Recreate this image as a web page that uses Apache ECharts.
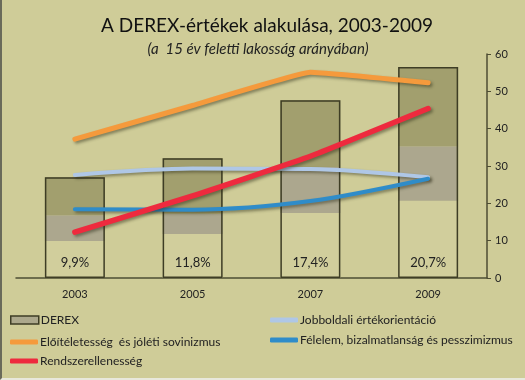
<!DOCTYPE html>
<html>
<head>
<meta charset="utf-8">
<script src="https://cdn.jsdelivr.net/npm/echarts@6/dist/echarts.min.js"></script>
<style>
html,body{margin:0;padding:0;background:#CFCC98;}
#c{width:525px;height:380px;box-sizing:border-box;border-left:2px solid #6a6a5a;border-bottom:2px solid #e8e8dc;}
</style>
</head>
<body>
<div id="c"></div>
<script>
var years = ['2003', '2005', '2007', '2009'];
var derexPct = [9.9, 11.8, 17.4, 20.7];
var grayTop = [16.8, 17.2, 29.7, 35.3];
var barTop = [27.0, 32.1, 47.6, 56.5];
var eloitelet = [37.2, 46.2, 55.1, 52.3];
var rendszer = [12.3, 22.0, 32.6, 45.4];
var jobboldali = [27.6, 29.3, 29.2, 27.0];
var felelem = [18.4, 18.3, 20.6, 26.6];
var yTicks = [0, 60, 10];

var FONT = 'Lato';
var shadow = {shadowColor: 'rgba(40,40,20,0.45)', shadowBlur: 3, shadowOffsetX: 2, shadowOffsetY: 2};
function lineSeries(name, data, color, width, smooth) {
  return {
    name: name, type: 'line', data: data, smooth: smooth, showSymbol: false, symbol: 'none',
    z: 5,
    lineStyle: Object.assign({color: color, width: width, cap: 'round', join: 'round'}, shadow),
    itemStyle: {color: color}
  };
}
var chart = echarts.init(document.getElementById('c'));
chart.setOption({
  backgroundColor: '#CFCC98',
  animation: false,
  title: [
    {text: 'A DEREX-értékek alakulása, 2003-2009', left: 260, top: 11, textAlign: 'center',
     textStyle: {fontFamily: FONT, fontSize: 19, fontWeight: 'normal', color: '#111'}},
    {text: '(a  15 év feletti lakosság arányában)', left: 251, top: 37, textAlign: 'center',
     textStyle: {fontFamily: FONT, fontSize: 15, fontStyle: 'italic', fontWeight: 'normal', color: '#222'}}
  ],
  grid: {left: 14, right: 38, top: 54, bottom: 100},
  xAxis: {
    type: 'category', data: years,
    axisLine: {lineStyle: {color: '#4e4d33', width: 1.5}},
    axisTick: {show: false},
    axisLabel: {fontFamily: FONT, fontSize: 11, color: '#222', margin: 11}
  },
  yAxis: {
    type: 'value', position: 'right', min: yTicks[0], max: yTicks[1], interval: yTicks[2],
    splitLine: {show: false},
    axisLine: {show: true, lineStyle: {color: '#4e4d33', width: 1.5}},
    axisTick: {show: true, length: 4, lineStyle: {color: '#4e4d33'}},
    axisLabel: {fontFamily: FONT, fontSize: 11, color: '#222', margin: 8}
  },
  legend: [
    {orient: 'vertical', left: 8, top: 314, padding: 0, itemWidth: 28, itemHeight: 8, itemGap: 6,
     icon: 'rect',
     textStyle: {fontFamily: FONT, fontSize: 12, color: '#222', padding: [0,0,0,-3]},
     data: [{name: 'DEREX', itemStyle: {color: '#ACA88C', borderColor: '#3e3d25', borderWidth: 1.5}}]},
    {orient: 'vertical', left: 8, top: 336, padding: 0, itemWidth: 28, itemHeight: 5, itemGap: 7,
     icon: 'roundRect',
     textStyle: {fontFamily: FONT, fontSize: 12, color: '#222', padding: [0,0,0,-3]},
     data: ['Előítéletesség  és jóléti sovinizmus', 'Rendszerellenesség']},
    {orient: 'vertical', left: 268, top: 314, padding: 0, itemWidth: 28, itemHeight: 5, itemGap: 8,
     icon: 'roundRect',
     textStyle: {fontFamily: FONT, fontSize: 12, color: '#222', padding: [0,0,0,-3]},
     data: ['Jobboldali értékorientáció', 'Félelem, bizalmatlanság és pesszimizmus']}
  ],
  series: [
    {name: 'base', type: 'bar', stack: 'd', barWidth: 60, z: 2,
     data: derexPct, itemStyle: {color: '#D1CE9C'}, silent: true},
    {name: 'gray', type: 'bar', stack: 'd', barWidth: 60, z: 2,
     data: grayTop.map(function(v, i){ return +(v - derexPct[i]).toFixed(2); }),
     itemStyle: {color: '#ACA78E'}, silent: true},
    {name: 'olive', type: 'bar', stack: 'd', barWidth: 60, z: 2,
     data: barTop.map(function(v, i){ return +(v - grayTop[i]).toFixed(2); }),
     itemStyle: {color: '#A29F6E'}, silent: true},
    {name: 'DEREX', type: 'bar', barWidth: 60, barGap: '-100%', z: 3,
     data: barTop,
     itemStyle: {color: 'rgba(0,0,0,0)', borderColor: '#3e3d25', borderWidth: 1.5},
     label: {show: true, position: 'insideBottom', distance: 9,
       fontFamily: FONT, fontSize: 13, color: '#222',
       formatter: function(p){ return String(derexPct[p.dataIndex]).replace('.', ',') + '%'; }}},
    lineSeries('Jobboldali értékorientáció', jobboldali, '#AFC7E6', 4, 0.3),
    lineSeries('Félelem, bizalmatlanság és pesszimizmus', felelem, '#2F8CC9', 4, 0.3),
    lineSeries('Előítéletesség  és jóléti sovinizmus', eloitelet, '#F59A3C', 5, 0.08),
    lineSeries('Rendszerellenesség', rendszer, '#EE2A3E', 5.5, 0.1)
  ]
});
</script>
</body>
</html>
